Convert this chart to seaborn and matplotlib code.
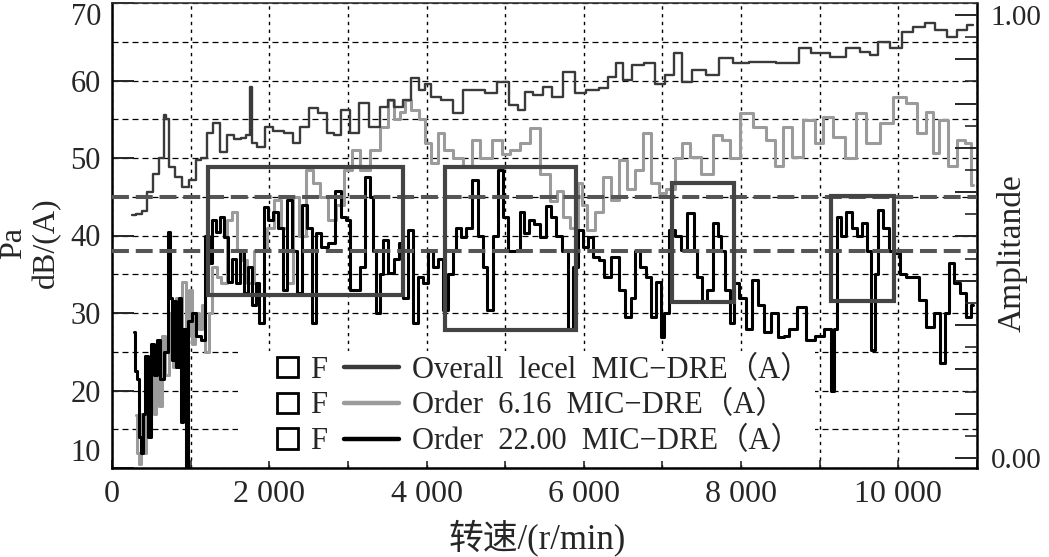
import numpy as np
import matplotlib
matplotlib.use("Agg")
import matplotlib.pyplot as plt
from matplotlib.patches import Rectangle
from matplotlib.lines import Line2D
from matplotlib.legend_handler import HandlerPatch
from matplotlib.ticker import MultipleLocator, FixedLocator, FuncFormatter
import seaborn as sns

# ---------------- data ----------------
rpm_overall = [250, 350, 420, 479, 560, 640, 670, 700, 760, 850, 940, 1030, 1100, 1160,
               1245, 1334, 1424, 1501, 1600, 1680, 1740, 1769, 1800, 1884, 1999, 2100,
               2267, 2331, 2450, 2548, 2701, 2778, 2867, 2969, 3084, 3186, 3340, 3467,
               3544, 3633, 3761, 3850, 3952, 4016, 4106, 4272, 4400, 4527, 4655, 4821,
               4974, 5127, 5204, 5293, 5420, 5548, 5637, 5829, 5957, 6100, 6276, 6340,
               6468, 6532, 6698, 6826, 6992, 7081, 7209, 7299, 7465, 7631, 7809, 7975,
               8231, 8397, 8486, 8704, 8780, 8997, 9253, 9419, 9598, 9674, 9802, 9981,
               10108, 10274, 10402, 10530, 10696, 10785, 10951]
level_overall = [42.6, 42.8, 43.2, 45.6, 48.0, 50.0, 55.5, 55.0, 48.8, 47.6, 46.3, 47.2, 49.7, 50.0,
                 53.2, 54.5, 50.8, 53.0, 52.5, 52.6, 53.0, 59.2, 52.0, 51.4, 54.0, 53.5,
                 53.2, 52.0, 54.0, 56.4, 55.8, 53.2, 53.0, 56.2, 53.2, 57.1, 54.0, 56.6,
                 57.5, 56.6, 57.5, 60.3, 58.8, 59.6, 57.9, 57.5, 55.8, 58.8, 58.8, 58.4,
                 59.8, 56.8, 56.2, 58.5, 58.1, 59.2, 57.9, 61.1, 58.4, 58.8, 59.0, 60.5,
                 62.3, 60.1, 62.0, 62.3, 59.6, 60.7, 63.5, 59.8, 61.4, 60.7, 62.9, 62.3,
                 62.4, 62.4, 62.3, 62.3, 64.2, 63.5, 63.0, 64.2, 63.7, 63.3, 65.0, 64.2,
                 66.3, 66.9, 67.4, 66.5, 65.6, 66.5, 67.2]

rpm_order616 = [300, 330, 351, 380, 420, 450, 479, 510, 550, 580, 620, 660, 700, 760, 800,
                830, 870, 920, 960, 1000, 1041, 1080, 1130, 1168, 1207, 1250, 1300, 1360,
                1424, 1501, 1560, 1620, 1680, 1760, 1850, 1935, 2011, 2101, 2190, 2267,
                2340, 2420, 2510, 2600, 2700, 2800, 2900, 3000, 3100, 3212, 3340, 3467,
                3544, 3633, 3700, 3761, 3850, 3952, 4016, 4106, 4180, 4272, 4400, 4527,
                4617, 4744, 4910, 5000, 5127, 5255, 5382, 5510, 5620, 5700, 5765, 5893,
                5957, 6000, 6085, 6200, 6300, 6400, 6500, 6600, 6700, 6800, 6900, 7000,
                7100, 7209, 7299, 7400, 7593, 7700, 7809, 7900, 8060, 8231, 8400, 8460,
                8600, 8700, 8870, 9000, 9080, 9253, 9400, 9510, 9675, 9850, 10020, 10170,
                10300, 10400, 10480, 10560, 10700, 10800, 10900, 10951]
level_order616 = [16.8, 12.0, 10.5, 17.0, 12.0, 20.0, 15.0, 22.0, 17.0, 25.0, 18.0, 27.0, 22.0, 30.0, 23.0,
                  32.0, 28.0, 34.0, 27.0, 33.0, 26.0, 30.0, 28.0, 31.0, 25.0, 30.0, 36.0, 34.6,
                  33.9, 42.0, 43.0, 38.0, 36.8, 33.9, 38.0, 38.0, 41.0, 44.6, 41.0, 33.9,
                  45.0, 40.0, 48.5, 46.8, 45.0, 42.0, 44.0, 48.5, 51.0, 48.5, 51.0, 54.0,
                  57.5, 55.0, 56.0, 57.5, 56.2, 55.0, 52.0, 49.3, 53.2, 51.0, 50.0, 49.0,
                  52.3, 50.0, 52.3, 50.5, 51.0, 52.0, 53.9, 48.0, 44.5, 45.8, 42.4, 41.0,
                  46.8, 44.0, 40.7, 43.0, 47.5, 44.6, 49.7, 46.0, 48.5, 53.2, 46.8, 45.5,
                  46.0, 50.0, 51.9, 50.1, 48.0, 53.0, 52.3, 50.0, 55.8, 54.0, 52.3, 49.0,
                  54.0, 50.1, 54.9, 52.0, 55.3, 52.7, 50.0, 55.8, 51.9, 54.5, 57.9, 57.1,
                  53.2, 56.0, 50.6, 54.9, 49.0, 52.3, 52.0, 46.5]

rpm_order22 = [275, 300, 330, 351, 380, 402, 441, 479, 510, 550, 590, 640, 690, 722, 745,
               775, 800, 830, 865, 890, 925, 951, 990, 1041, 1100, 1168, 1207, 1250, 1296,
               1350, 1400, 1450, 1500, 1550, 1600, 1650, 1700, 1760, 1807, 1845, 1900,
               1960, 2011, 2080, 2150, 2190, 2267, 2320, 2380, 2446, 2510, 2573, 2620,
               2700, 2800, 2867, 2950, 3000, 3050, 3120, 3180, 3250, 3300, 3340, 3378,
               3430, 3470, 3550, 3633, 3672, 3740, 3800, 3860, 3927, 3990, 4055, 4120,
               4182, 4233, 4300, 4361, 4400, 4470, 4527, 4617, 4680, 4744, 4800, 4880,
               4940, 5000, 5076, 5166, 5204, 5280, 5332, 5400, 5480, 5548, 5620, 5676,
               5765, 5842, 5893, 5957, 6020, 6085, 6160, 6225, 6300, 6404, 6480, 6570,
               6620, 6680, 6760, 6826, 6890, 6954, 7000, 7043, 7120, 7200, 7260, 7376,
               7420, 7465, 7530, 7593, 7680, 7720, 7759, 7820, 7887, 7938, 8014, 8103,
               8180, 8260, 8330, 8420, 8524, 8576, 8650, 8780, 8870, 9000, 9120, 9164,
               9200, 9240, 9300, 9367, 9450, 9509, 9560, 9636, 9674, 9720, 9764, 9853,
               9920, 9981, 10060, 10146, 10235, 10300, 10400, 10500, 10567, 10620, 10657,
               10747, 10824, 10900, 10951]
level_order22 = [27.5, 22.5, 21.5, 14.0, 12.0, 17.0, 24.5, 14.0, 26.0, 22.0, 26.5, 21.5, 25.0, 40.5, 32.0,
                 24.0, 31.5, 23.0, 32.0, 16.0, 28.0, 10.0, 29.0, 30.0, 27.0, 26.5, 40.0, 36.5, 42.0,
                 40.5, 42.4, 39.8, 34.0, 37.0, 33.9, 38.0, 32.6, 36.0, 31.0, 33.9, 28.7,
                 43.7, 42.0, 43.0, 41.0, 33.0, 44.6, 38.0, 32.6, 44.0, 41.0, 28.7, 40.3,
                 38.5, 39.0, 45.8, 42.4, 42.0, 33.0, 33.0, 36.0, 47.5, 45.0, 38.0, 30.0,
                 35.0, 39.4, 35.2, 37.0, 39.0, 32.0, 40.7, 28.7, 34.6, 33.9, 38.0, 36.0,
                 37.0, 30.4, 35.0, 38.0, 41.0, 39.8, 41.0, 47.1, 40.0, 36.0, 30.4, 40.0,
                 48.5, 42.4, 38.0, 38.0, 43.0, 40.3, 42.0, 41.5, 39.8, 43.8, 42.4, 40.0,
                 38.0, 28.0, 36.0, 40.7, 38.5, 39.8, 37.2, 36.8, 34.6, 37.2, 33.0, 29.5,
                 32.0, 38.0, 36.0, 34.6, 29.5, 34.0, 26.9, 30.0, 40.7, 40.0, 38.1, 42.9,
                 38.0, 34.6, 31.6, 33.0, 41.6, 40.0, 38.0, 33.0, 28.7, 33.9, 32.0, 28.0,
                 34.2, 31.0, 27.5, 30.0, 26.9, 27.0, 28.0, 30.8, 26.5, 27.0, 28.0, 20.0,
                 28.0, 42.4, 40.0, 43.0, 41.0, 40.0, 41.6, 38.0, 25.2, 35.0, 43.3, 41.0,
                 38.0, 37.7, 35.0, 34.6, 34.6, 31.7, 28.2, 30.0, 23.5, 30.0, 36.4,
                 33.9, 32.6, 29.5, 31.0]

series_labels = ["Overall  lecel  MIC\u2212DRE\uff08A\uff09",
                 "Order  6.16  MIC\u2212DRE\uff08A\uff09",
                 "Order  22.00  MIC\u2212DRE\uff08A\uff09"]
marker_labels = ["F", "F", "F"]
threshold_levels = [45.0, 38.0]
# highlighted regions: (rpm start, rpm end, dB low, dB high)
highlight_boxes = [(1220, 3697, 32.3, 48.8),
                   (4233, 5906, 27.8, 48.8),
                   (7120, 7912, 31.4, 46.8),
                   (9137, 9942, 31.5, 45.1)]
x_tick_values = [0, 2000, 4000, 6000, 8000, 10000]
x_tick_labels = ["0", "2 000", "4 000", "6 000", "8 000", "10 000"]
y_tick_values = [10, 20, 30, 40, 50, 60, 70]
right_tick_labels = {0.0: "0.00", 1.0: "1.00"}

# ---------------- style ----------------
sns.set_style("white")
FAM = ["Liberation Serif", "Noto Sans CJK SC"]
plt.rcParams["font.family"] = FAM
plt.rcParams["axes.unicode_minus"] = False

W, H = 1049, 557
fig = plt.figure(figsize=(W / 100, H / 100), dpi=100)
ax = fig.add_axes([112 / W, 1 - 468 / H, (977 - 112) / W, (468 - 3) / H])

c_overall, c_616, c_22 = "#3a3a3a", "#9b9b9b", "#000000"

sns.lineplot(x=rpm_order616, y=level_order616, ax=ax, color=c_616, lw=2.2,
             drawstyle="steps-mid", estimator=None, sort=False, legend=False, zorder=2)
sns.lineplot(x=rpm_overall, y=level_overall, ax=ax, color=c_overall, lw=1.7,
             drawstyle="steps-mid", estimator=None, sort=False, legend=False, zorder=2.2)
sns.lineplot(x=rpm_order22, y=level_order22, ax=ax, color=c_22, lw=2.2,
             drawstyle="steps-mid", estimator=None, sort=False, legend=False, zorder=2.4)

for lv in threshold_levels:
    ax.axhline(lv, color="#555555", lw=2.9, dashes=(4.2, 1.7), zorder=3)

for (x0, x1, y0, y1) in highlight_boxes:
    ax.add_patch(Rectangle((x0, y0), x1 - x0, y1 - y0, fill=False,
                           edgecolor="#444444", lw=3.0, zorder=4))

ax.set_xlim(0, 11000)
ax.set_ylim(10, 70)

# grid
ax.xaxis.set_major_locator(FixedLocator(x_tick_values))
ax.xaxis.set_minor_locator(MultipleLocator(1000))
ax.set_xticklabels(x_tick_labels)
ax.yaxis.set_major_locator(FixedLocator(y_tick_values))
ax.yaxis.set_minor_locator(MultipleLocator(5))
ax.grid(axis="y", which="both", color="black", lw=0.9, linestyle=(0, (4.8, 3.2)), zorder=0.5)
ax.grid(axis="x", which="both", color="black", lw=1.0, linestyle=(0, (2.4, 3.2)), zorder=0.5)
ax.set_axisbelow(True)

ax.tick_params(axis="y", which="major", direction="in", length=16, width=1.4,
               labelsize=22, pad=8, left=True, right=False)
ax.tick_params(axis="y", which="minor", length=0)
ax.tick_params(axis="x", which="both", direction="in", length=6, width=1.2,
               labelsize=23, pad=9, bottom=True, top=False)
fig.canvas.draw()
ylabels = ax.get_yticklabels()
ylabels[-1].set_verticalalignment("top")
ylabels[0].set_verticalalignment("bottom")

for s in ax.spines.values():
    s.set_color("black")
    s.set_linewidth(1.8)
ax.spines["top"].set_linewidth(1.2)
ax.spines["top"].set_color("#333333")

# right axis
ax2 = ax.twinx()
ax2.set_ylim(-0.0226, 1.027)
ax2.yaxis.set_major_locator(MultipleLocator(0.1))
ax2.yaxis.set_minor_locator(MultipleLocator(0.05))
ax2.yaxis.set_major_formatter(FuncFormatter(
    lambda v, p: right_tick_labels.get(round(v, 2), "")))
ax2.tick_params(axis="y", which="major", direction="in", length=16, width=1.4,
                labelsize=21, pad=10)
ax2.tick_params(axis="y", which="minor", direction="in", length=9, width=1.2)
for s in ax2.spines.values():
    s.set_visible(False)
ax2.grid(False)

# axis titles
fig.text(30 / W, 1 - 243 / H, "Pa\ndB/(A)", rotation=90, ha="center", va="center",
         fontsize=23, multialignment="center", family=FAM)
fig.text(1012 / W, 1 - 253 / H, "Amplitande", rotation=90, ha="center", va="center",
         fontsize=24, family=FAM)
fig.text(537 / W, 1 - 538 / H, "转速/(r/min)", ha="center", va="center",
         fontsize=25, family=FAM)

# legend
def square_at_right(legend, orig_handle, xdescent, ydescent, width, height, fontsize):
    s = height * 0.95
    return Rectangle((-xdescent + width - s, -ydescent + (height - s) / 2), s, s)

sq_handles = [Rectangle((0, 0), 1, 1, facecolor="white", edgecolor="black", lw=2.0)
              for _ in marker_labels]
line_handles = [Line2D([], [], color=c, lw=3.2) for c in (c_overall, c_616, c_22)]
leg = ax.legend(sq_handles + line_handles, marker_labels + series_labels,
                ncol=2, loc="upper left",
                bbox_to_anchor=(238 / W, 1 - 351 / H), bbox_transform=fig.transFigure,
                handler_map={Rectangle: HandlerPatch(patch_func=square_at_right)},
                prop={"family": FAM, "size": 22},
                handlelength=1.8, handletextpad=0.42, columnspacing=0.55,
                labelspacing=0.22, borderpad=0.15, borderaxespad=0,
                frameon=True, fancybox=False, framealpha=1.0,
                facecolor="white", edgecolor="none")
leg.set_zorder(10)

fig.savefig("out.png", dpi=100, facecolor="white")
